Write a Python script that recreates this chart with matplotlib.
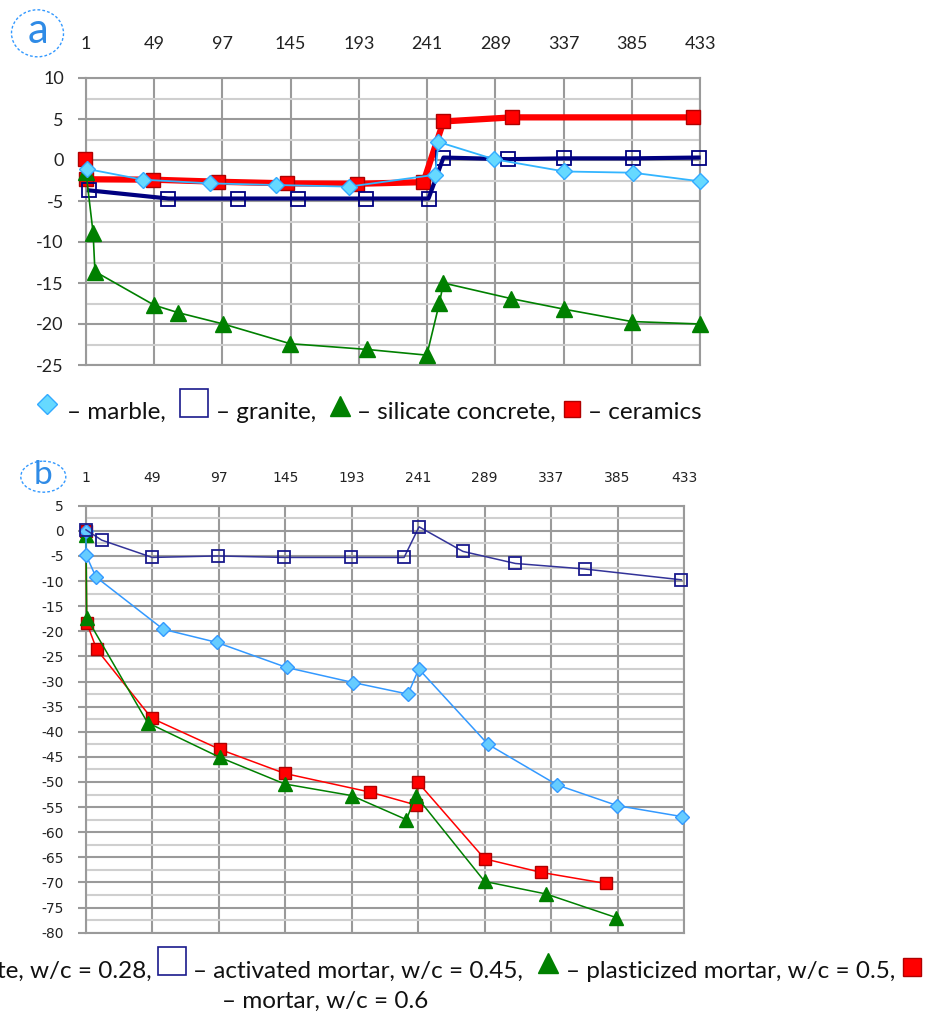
import matplotlib.pyplot as plt
from matplotlib.patches import Ellipse
from matplotlib.ticker import MultipleLocator
import numpy as np

plt.rcParams["axes.unicode_minus"] = False

# ---- data, panel (a)
marble_x = [2, 41, 88, 135, 186, 246.6, 249, 288, 337.6, 385.8, 433]
marble_y = [-1.1, -2.4, -2.85, -3.05, -3.25, -1.8, 2.2, 0.1, -1.4, -1.55, -2.6]
granite_x = [3, 59, 108, 150, 198, 242, 252.5, 298, 337.6, 385.8, 432]
granite_y = [-3.7, -4.7, -4.7, -4.7, -4.7, -4.7, 0.3, 0.1, 0.2, 0.2, 0.3]
silicate_x = [1, 6, 7.3, 49, 65.5, 97.6, 144.6, 198.6, 240.8, 249.7, 252.5, 300, 337.6, 385, 433]
silicate_y = [-1.5, -8.9, -13.6, -17.7, -18.6, -20, -22.4, -23.1, -23.8, -17.4, -15, -16.9, -18.2, -19.7, -20]
ceramics_x = [0, 1, 48, 94, 142.7, 192, 238.4, 252.5, 300.6, 428.4]
ceramics_y = [0.1, -2.35, -2.4, -2.65, -2.85, -2.9, -2.7, 4.7, 5.2, 5.2]

# ---- data, panel (b)
conc_x = [1, 1, 8.2, 56.8, 95.3, 145.9, 193.9, 233.6, 241.4, 291.4, 341.5, 384.8, 431.7]
conc_y = [0, -4.8, -9.2, -19.6, -22.2, -27.2, -30.2, -32.5, -27.5, -42.5, -50.6, -54.7, -56.9]
act_x = [1, 12.3, 48.9, 96.1, 144.2, 192.3, 230.8, 241.6, 273.3, 311.2, 361.2, 431]
act_y = [0.2, -1.85, -5.3, -5.0, -5.3, -5.3, -5.3, 0.8, -4.1, -6.5, -7.6, -9.75]
plast_x = [1, 1.5, 45.5, 97.7, 144.6, 192.8, 232.5, 239.2, 289, 333.5, 384.1]
plast_y = [-0.8, -17.3, -38.2, -45.1, -50.4, -52.7, -57.5, -52.7, -69.8, -72.3, -77]
mortar_x = [1, 1.5, 8.7, 48.4, 97.7, 144.6, 206, 239.7, 240.9, 289, 329.9, 376.6]
mortar_y = [0, -18.3, -23.6, -37.3, -43.5, -48.3, -52, -54.6, -50.1, -65.3, -68, -70.2]

xticks = np.arange(1, 434, 48)

W, H = 930, 1014
fig = plt.figure(figsize=(W / 100, H / 100), dpi=100)

def ax_rect(left, top, right, bottom):
    return [left / W, 1 - bottom / H, (right - left) / W, (bottom - top) / H]

def style_axes(ax, ylo, yhi, font, fsize, toppad):
    ax.set_xlim(1, 433)
    ax.set_ylim(ylo, yhi)
    ax.set_xticks(xticks)
    ax.yaxis.set_major_locator(MultipleLocator(5))
    ax.yaxis.set_minor_locator(MultipleLocator(2.5))
    ax.xaxis.tick_top()
    ax.tick_params(axis="x", length=0, pad=toppad, labelsize=fsize, labelcolor="#222222")
    ax.tick_params(axis="y", which="major", direction="out", length=6, width=1.5,
                   color="#9a9a9a", pad=10, labelsize=fsize, labelcolor="#222222")
    ax.tick_params(axis="y", which="minor", length=0)
    for lab in ax.get_xticklabels() + ax.get_yticklabels():
        lab.set_fontfamily(font)
    ax.grid(True, which="major", color="#9a9a9a", lw=1.5)
    ax.grid(True, which="minor", axis="y", color="#cfcfcf", lw=1.5)
    ax.set_axisbelow(True)
    for s in ax.spines.values():
        s.set_color("#9a9a9a")
        s.set_linewidth(1.5)

# ---- panel (a)
ax1 = fig.add_axes(ax_rect(86, 78, 700, 365))
style_axes(ax1, -25, 10, "Lato", 13, 19)
ax1.plot(ceramics_x, ceramics_y, color="#ff0000", lw=4.5, marker="s", ms=10,
         mfc="#ff0000", mec="#b00000", mew=1, zorder=3, clip_on=False)
ax1.plot(granite_x, granite_y, color="#000080", lw=3, marker="s", ms=10,
         mfc="none", mec="#000080", mew=1.3, zorder=4, clip_on=False)
ax1.plot(silicate_x, silicate_y, color="#008000", lw=1.2, marker="^", ms=11,
         mfc="#008000", mec="#008000", zorder=5, clip_on=False)
ax1.plot(marble_x, marble_y, color="#33b5ff", lw=1.3, marker="D", ms=8,
         mfc="#66d9ff", mec="#33aaff", mew=1, zorder=6, clip_on=False)

# ---- panel (b)
ax2 = fig.add_axes(ax_rect(86, 505.7, 684, 932.7))
style_axes(ax2, -80, 5, "DejaVu Sans", 10, 15)
ax2.plot(mortar_x, mortar_y, color="#ff0000", lw=1.1, marker="s", ms=9,
         mfc="#ff0000", mec="#b00000", mew=1, zorder=3, clip_on=False)
ax2.plot(plast_x, plast_y, color="#008000", lw=1.1, marker="^", ms=10,
         mfc="#008000", mec="#008000", zorder=4, clip_on=False)
ax2.plot(conc_x, conc_y, color="#3399ff", lw=1.1, marker="D", ms=7,
         mfc="#66ccff", mec="#3399ff", mew=1, zorder=5, clip_on=False)
ax2.plot(act_x, act_y, color="#333399", lw=1.1, marker="s", ms=9,
         mfc="none", mec="#1a1a8c", mew=1.3, zorder=6, clip_on=False)

# ---- overlay in pixel coordinates for labels and legends
ov = fig.add_axes([0, 0, 1, 1], zorder=10)
ov.set_xlim(0, W)
ov.set_ylim(H, 0)
ov.axis("off")
ov.patch.set_alpha(0)

ov.add_patch(Ellipse((37.5, 33.3), 52, 47, fill=False, ec="#3399ff", lw=1, ls=(0, (2, 1.5))))
ov.text(37.5, 31, "a", color="#2f8be6", fontsize=30, family="Lato", ha="center", va="center")
ov.add_patch(Ellipse((43.3, 476.7), 45, 31, fill=False, ec="#3399ff", lw=1, ls=(0, (2, 1.5))))
ov.text(43.3, 475, "b", color="#2f8be6", fontsize=24, family="Lato", ha="center", va="center")

lf = dict(fontsize=17.5, family="Lato", color="#111111", va="baseline")
# legend (a)
ov.plot([46.7], [404], marker="D", ms=10.5, mfc="#66d9ff", mec="#33aaff", mew=1)
ov.text(67, 419, "\u2013 marble,", **lf)
ov.plot([194], [403], marker="s", ms=20, mfc="white", mec="#1a1a8c", mew=1.2)
ov.text(216, 419, "\u2013 granite,", **lf)
ov.plot([340], [406], marker="^", ms=14, mfc="#008000", mec="#008000")
ov.text(357, 419, "\u2013 silicate concrete,", **lf)
ov.plot([572.3], [409.3], marker="s", ms=12, mfc="#ff0000", mec="#b00000", mew=1)
ov.text(588, 419, "\u2013 ceramics", **lf)

# legend (b), left part is cut off in the original
ov.text(-3, 978, "te, w/c = 0.28,", **lf)
ov.plot([172], [961], marker="s", ms=19.5, mfc="white", mec="#1a1a8c", mew=1.2)
ov.text(193, 978, "\u2013 activated mortar, w/c = 0.45,", **lf)
ov.plot([548.3], [963.3], marker="^", ms=15, mfc="#008000", mec="#008000")
ov.text(566, 978, "\u2013 plasticized mortar, w/c = 0.5,", **lf)
ov.plot([912.3], [967], marker="s", ms=13, mfc="#ff0000", mec="#b00000", mew=1)
ov.text(222, 1008, "\u2013 mortar, w/c = 0.6", **lf)

fig.savefig("out.png", dpi=100)
